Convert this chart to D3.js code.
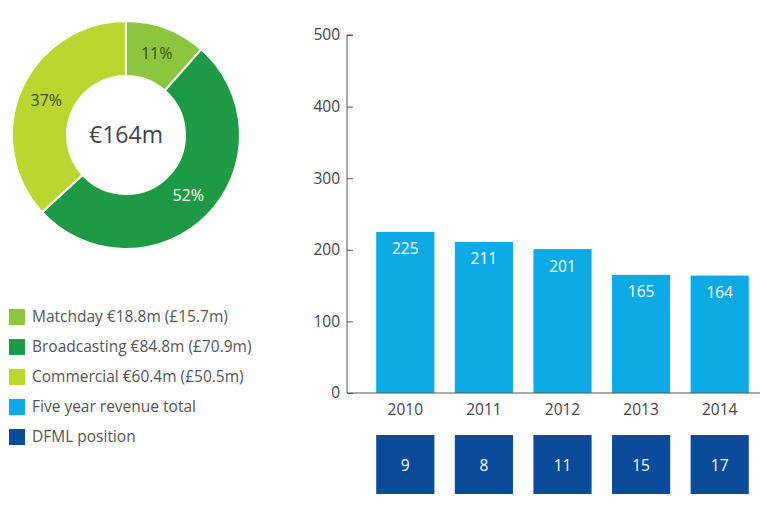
<!DOCTYPE html>
<html lang="en">
<head>
<meta charset="utf-8">
<title>Revenue breakdown and five year total</title>
<script src="https://cdn.jsdelivr.net/npm/d3@7"></script>
<style>
  body { margin: 0; background: #fff; }
  svg text { font-family: "Open Sans", "Noto Sans", sans-serif; }
</style>
</head>
<body>
<script>
// donut data
var sources = ["Matchday", "Broadcasting", "Commercial"];
var sourceValues = [18.8, 84.8, 60.4];
var sourcePct = ["11%", "52%", "37%"];
var sourceColors = ["#8cc63f", "#1f9a44", "#bcd631"];
var centreLabel = "€164m";

// bar data
var years = ["2010", "2011", "2012", "2013", "2014"];
var revenue = [225, 211, 201, 165, 164];
var position = [9, 8, 11, 15, 17];
var yTicks = [0, 100, 200, 300, 400, 500];

var legendLabels = [
  "Matchday €18.8m (£15.7m)",
  "Broadcasting €84.8m (£70.9m)",
  "Commercial €60.4m (£50.5m)",
  "Five year revenue total",
  "DFML position"
];
var legendColors = ["#8cc63f", "#1f9a44", "#bcd631", "#0eaae6", "#0a4b9a"];

var w = 767, h = 511;
var fs = "15.5px";
var svg = d3.select("body").append("svg").attr("width", w).attr("height", h);

// ---- donut ----
var cx = 126, cy = 135, rOuter = 114, rInner = 59;
var pie = d3.pie().sort(null).value(function(d) { return d; });
var arc = d3.arc().innerRadius(rInner).outerRadius(rOuter);
var labelArc = d3.arc().innerRadius(87).outerRadius(87);

var donut = svg.append("g").attr("transform", "translate(" + cx + "," + cy + ")");
var arcs = pie(sourceValues);

donut.selectAll("path")
  .data(arcs)
  .enter()
  .append("path")
  .attr("d", arc)
  .attr("fill", function(d, i) { return sourceColors[i]; })
  .attr("stroke", "#fff")
  .attr("stroke-width", 2);

donut.selectAll("text.pct")
  .data(arcs)
  .enter()
  .append("text")
  .attr("class", "pct")
  .attr("transform", function(d) { return "translate(" + labelArc.centroid(d) + ")"; })
  .attr("text-anchor", "middle")
  .attr("dy", "0.35em")
  .attr("font-size", "16px")
  .attr("fill", function(d, i) { return i == 1 ? "#fff" : "#3d4a1a"; })
  .text(function(d, i) { return sourcePct[i]; });

donut.append("text")
  .attr("text-anchor", "middle")
  .attr("dy", "0.35em")
  .attr("font-size", "23px")
  .attr("fill", "#444")
  .text(centreLabel);

// ---- legend ----
var legend = svg.append("g").attr("transform", "translate(9,309)");
var rows = legend.selectAll("g")
  .data(legendLabels)
  .enter()
  .append("g")
  .attr("transform", function(d, i) { return "translate(0," + (i * 30) + ")"; });

rows.append("rect")
  .attr("width", 16)
  .attr("height", 16)
  .attr("fill", function(d, i) { return legendColors[i]; });

rows.append("text")
  .attr("x", 23)
  .attr("y", 8)
  .attr("dy", "0.35em")
  .attr("font-size", fs)
  .attr("fill", "#555")
  .text(function(d) { return d; });

// ---- bars ----
var axisX = 347, baseY = 393;
var xScale = d3.scaleBand()
  .domain(years)
  .range([366, 759])
  .paddingInner(0.26)
  .paddingOuter(0.13);

var yScale = d3.scaleLinear()
  .domain([0, 500])
  .range([baseY, 35]);

svg.selectAll("rect.bar")
  .data(revenue)
  .enter()
  .append("rect")
  .attr("class", "bar")
  .attr("x", function(d, i) { return xScale(years[i]); })
  .attr("y", function(d) { return yScale(d); })
  .attr("width", xScale.bandwidth())
  .attr("height", function(d) { return baseY - yScale(d); })
  .attr("fill", "#0eaae6");

svg.selectAll("text.val")
  .data(revenue)
  .enter()
  .append("text")
  .attr("class", "val")
  .attr("x", function(d, i) { return xScale(years[i]) + xScale.bandwidth() / 2; })
  .attr("y", function(d) { return yScale(d) + 17; })
  .attr("dy", "0.35em")
  .attr("text-anchor", "middle")
  .attr("font-size", fs)
  .attr("fill", "#fff")
  .text(function(d) { return d; });

// y axis
var yAxis = d3.axisRight(yScale).tickValues(yTicks).tickSize(6).tickFormat("");
var yg = svg.append("g").attr("transform", "translate(" + axisX + ",0)").call(yAxis);
yg.select(".domain").attr("stroke", "#555").attr("d", "M6," + yScale(500) + "H0V" + baseY);
yg.selectAll(".tick line").attr("stroke", "#555");

svg.selectAll("text.ytick")
  .data(yTicks)
  .enter()
  .append("text")
  .attr("class", "ytick")
  .attr("x", 340)
  .attr("y", function(d) { return yScale(d); })
  .attr("dy", "0.35em")
  .attr("text-anchor", "end")
  .attr("font-size", fs)
  .attr("fill", "#444")
  .text(function(d) { return d; });

// baseline
svg.append("line")
  .attr("x1", axisX).attr("x2", 760)
  .attr("y1", baseY).attr("y2", baseY)
  .attr("stroke", "#555");

// x labels
svg.selectAll("text.year")
  .data(years)
  .enter()
  .append("text")
  .attr("class", "year")
  .attr("x", function(d) { return xScale(d) + xScale.bandwidth() / 2; })
  .attr("y", 410)
  .attr("dy", "0.35em")
  .attr("text-anchor", "middle")
  .attr("font-size", fs)
  .attr("fill", "#444")
  .text(function(d) { return d; });

// DFML position boxes
svg.selectAll("rect.pos")
  .data(position)
  .enter()
  .append("rect")
  .attr("class", "pos")
  .attr("x", function(d, i) { return xScale(years[i]); })
  .attr("y", 435)
  .attr("width", xScale.bandwidth())
  .attr("height", 59)
  .attr("fill", "#0a4b9a");

svg.selectAll("text.pos")
  .data(position)
  .enter()
  .append("text")
  .attr("class", "pos")
  .attr("x", function(d, i) { return xScale(years[i]) + xScale.bandwidth() / 2; })
  .attr("y", 466)
  .attr("dy", "0.35em")
  .attr("text-anchor", "middle")
  .attr("font-size", fs)
  .attr("fill", "#fff")
  .text(function(d) { return d; });
</script>
</body>
</html>
